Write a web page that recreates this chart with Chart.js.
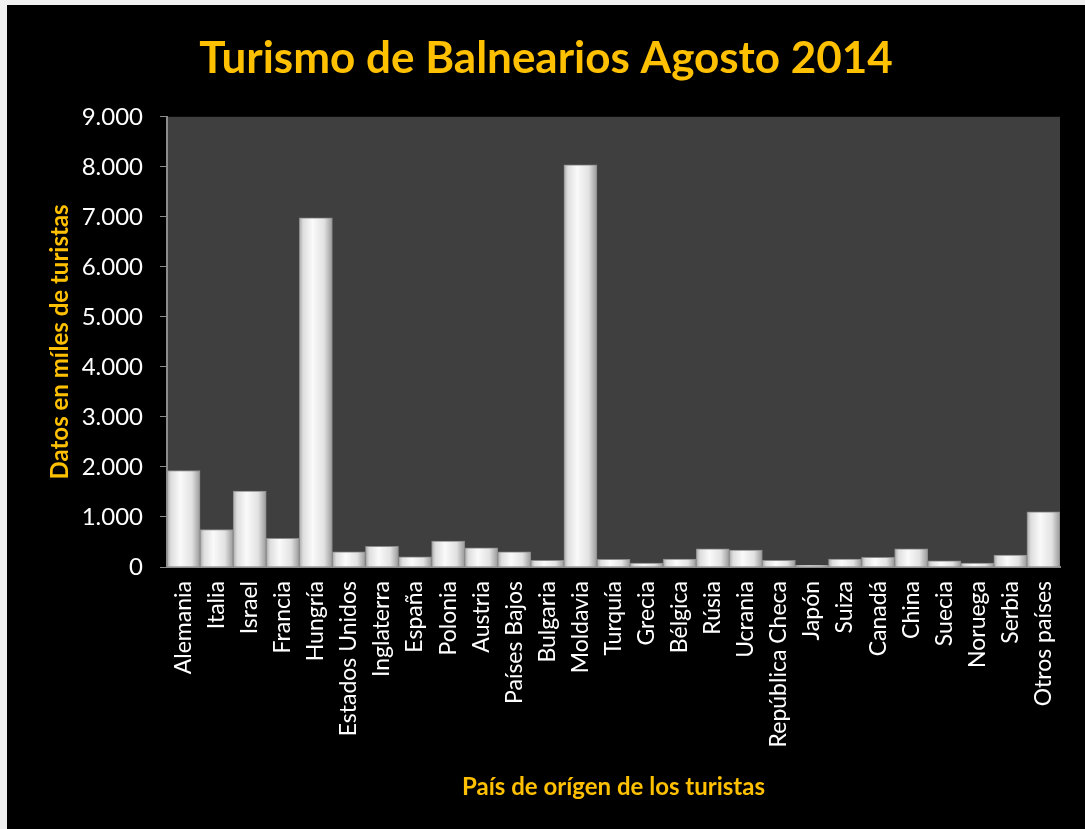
<!DOCTYPE html>
<html>
<head>
<meta charset="utf-8">
<script src="https://cdn.jsdelivr.net/npm/chart.js@4.4.0/dist/chart.umd.min.js"></script>
<style>
  html, body { margin: 0; padding: 0; background: #f0f0f0; }
  #wrap { position: absolute; left: 7px; top: 5px; width: 1078px; height: 824px; background: #000; }
</style>
</head>
<body>
<div id="wrap"><canvas id="chart" width="1078" height="824"></canvas></div>
<script>
// Countries of origin (x axis)
const paises = ['Alemania', 'Italia', 'Israel', 'Francia', 'Hungría', 'Estados Unidos', 'Inglaterra',
  'España', 'Polonia', 'Austria', 'Países Bajos', 'Bulgaria', 'Moldavia', 'Turquía', 'Grecia',
  'Bélgica', 'Rúsia', 'Ucrania', 'República Checa', 'Japón', 'Suiza', 'Canadá', 'China', 'Suecia',
  'Noruega', 'Serbia', 'Otros países'];

// Tourists (thousands)
const turistas = [1930, 750, 1520, 575, 6980, 305, 415, 205, 520, 385, 305, 135, 8040, 155, 80,
  160, 365, 340, 135, 35, 160, 195, 365, 125, 80, 240, 1105];

const yMax = 9000;
const yStep = 1000;

const naranja = '#FFC000';
const fuente = 'Lato, "Open Sans", sans-serif';

// dark plot area behind the bars
const plotBg = {
  id: 'plotBg',
  beforeDraw(chart) {
    const { ctx, chartArea: a } = chart;
    ctx.save();
    ctx.fillStyle = '#3f3f3f';
    ctx.fillRect(a.left, a.top, a.right - a.left, a.bottom - a.top);
    ctx.restore();
  }
};

// horizontal shading of each bar, like a rounded column
function barFill(context) {
  const chart = context.chart;
  if (!chart.chartArea) return '#e0e0e0';
  const x = chart.scales.x;
  const cx = x.getPixelForValue(context.dataIndex);
  const w = x.width / paises.length;
  const g = chart.ctx.createLinearGradient(cx - w / 2, 0, cx + w / 2, 0);
  g.addColorStop(0, '#aaaaaa');
  g.addColorStop(0.12, '#dedede');
  g.addColorStop(0.4, '#fafafa');
  g.addColorStop(0.75, '#e2e2e2');
  g.addColorStop(1, '#9a9a9a');
  return g;
}

new Chart(document.getElementById('chart'), {
  type: 'bar',
  data: {
    labels: paises,
    datasets: [{
      label: 'Turistas',
      data: turistas,
      backgroundColor: barFill,
      borderColor: '#8c8c8c',
      borderWidth: 1,
      barPercentage: 1.0,
      categoryPercentage: 1.0,
    }]
  },
  options: {
    responsive: false,
    animation: false,
    layout: { padding: { left: 25, right: 25, top: 0, bottom: 0 } },
    plugins: {
      legend: { display: false },
      tooltip: { enabled: false },
      title: {
        display: true,
        text: 'Turismo de Balnearios Agosto 2014',
        color: naranja,
        font: { family: fuente, size: 44, weight: 'bold' },
        padding: { top: 27, bottom: 32 }
      }
    },
    scales: {
      x: {
        grid: { display: false },
        border: { color: '#8c8c8c', width: 2 },
        ticks: {
          color: '#ffffff',
          font: { family: fuente, size: 23 },
          minRotation: 90,
          maxRotation: 90,
          autoSkip: false,
          padding: 6
        },
        title: {
          display: true,
          text: 'País de orígen de los turistas',
          color: naranja,
          font: { family: fuente, size: 24, weight: 'bold' },
          padding: { top: 0, bottom: 27 }
        },
        afterFit(scale) { scale.height = 262; }
      },
      y: {
        min: 0,
        max: yMax,
        grid: { display: true, drawOnChartArea: false, drawTicks: true, tickLength: 7, color: '#8c8c8c' },
        border: { color: '#8c8c8c', width: 2 },
        ticks: {
          stepSize: yStep,
          color: '#ffffff',
          font: { family: fuente, size: 24 },
          padding: 17,
          callback: v => v.toLocaleString('de-DE')
        },
        title: {
          display: true,
          text: 'Datos en míles de turistas',
          color: naranja,
          font: { family: fuente, size: 24, weight: 'bold' },
          padding: { top: 14, bottom: 0 }
        },
        afterFit(scale) { scale.width = 135; }
      }
    }
  },
  plugins: [plotBg]
});
</script>
</body>
</html>
